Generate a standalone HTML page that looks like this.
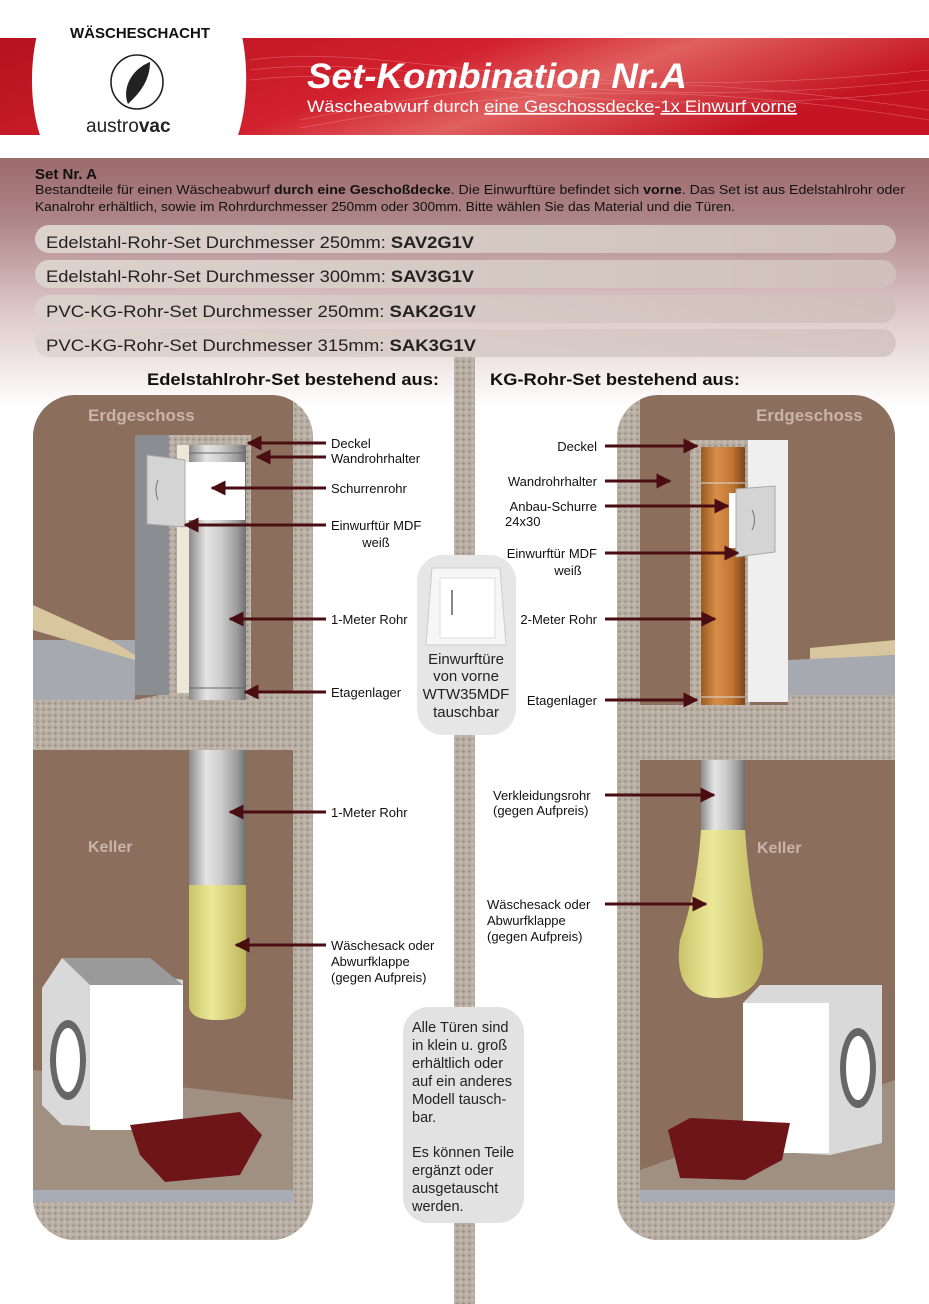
<!DOCTYPE html>
<html><head><meta charset="utf-8"><style>
html,body{margin:0;padding:0;background:#fff}
svg{display:block}
text{font-family:"Liberation Sans",sans-serif}
</style></head><body>
<svg width="929" height="1304" viewBox="0 0 929 1304" xmlns="http://www.w3.org/2000/svg">
<defs>
<linearGradient id="red" x1="0" y1="0" x2="1" y2="0.3">
<stop offset="0" stop-color="#b5121f"/><stop offset="0.5" stop-color="#d2202e"/><stop offset="0.7" stop-color="#e06060"/><stop offset="1" stop-color="#c41424"/></linearGradient>
<linearGradient id="mauve" x1="0" y1="0" x2="0" y2="1">
<stop offset="0" stop-color="#9c6a6b"/><stop offset="0.25" stop-color="#ae8587"/><stop offset="0.6" stop-color="#dcc6c6"/><stop offset="1" stop-color="#ffffff"/></linearGradient>
<linearGradient id="pill" x1="0" y1="0" x2="1" y2="0">
<stop offset="0" stop-color="#dcd2cc"/><stop offset="1" stop-color="#cfc0bb"/></linearGradient>
<linearGradient id="steel" x1="0" y1="0" x2="1" y2="0">
<stop offset="0" stop-color="#8a8a8a"/><stop offset="0.3" stop-color="#e4e4e4"/><stop offset="0.55" stop-color="#cfcfcf"/><stop offset="0.85" stop-color="#9a9a9a"/><stop offset="1" stop-color="#6e6e6e"/></linearGradient>
<linearGradient id="orange" x1="0" y1="0" x2="1" y2="0">
<stop offset="0" stop-color="#9a5a22"/><stop offset="0.35" stop-color="#d88e48"/><stop offset="0.7" stop-color="#c27634"/><stop offset="1" stop-color="#7e4418"/></linearGradient>
<linearGradient id="sack" x1="0" y1="0" x2="1" y2="0">
<stop offset="0" stop-color="#c9c46a"/><stop offset="0.4" stop-color="#ece89a"/><stop offset="1" stop-color="#bdb65a"/></linearGradient>
<pattern id="grav" width="6" height="6" patternUnits="userSpaceOnUse">
<rect width="6" height="6" fill="#b9aea3"/><circle cx="1.5" cy="1.5" r="1" fill="#8f8478"/><circle cx="4.5" cy="4" r="0.8" fill="#ddd4ca"/></pattern>
<marker id="ah" viewBox="0 0 10 10" refX="9" refY="5" markerWidth="5" markerHeight="5" orient="auto"><path d="M0,0 L10,5 L0,10 Z" fill="#4a0d12"/></marker>
<clipPath id="cl"><rect x="33" y="395" width="280" height="845" rx="42"/></clipPath>
<clipPath id="cr"><rect x="617" y="395" width="278" height="845" rx="42"/></clipPath>
</defs>

<!-- header -->
<rect x="0" y="38" width="929" height="97" fill="url(#red)"/>
<g stroke="#f3a0a0" stroke-width="0.6" fill="none" opacity="0.5">
<path d="M250,60 C400,40 550,110 929,70"/><path d="M250,70 C420,50 560,120 929,80"/><path d="M250,80 C420,60 580,130 929,90"/><path d="M300,120 C450,90 600,60 929,110"/><path d="M300,128 C460,100 620,70 929,120"/>
</g>
<path d="M50,0 L230,0 C250,40 250,100 238,135 L40,135 C28,100 28,40 50,0 Z" fill="#fff"/>
<text x="140" y="38" font-size="15" font-weight="bold" text-anchor="middle" fill="#111">WÄSCHESCHACHT</text>
<ellipse cx="137" cy="82" rx="26" ry="27" fill="none" stroke="#222" stroke-width="1.6"/>
<path d="M150,62 C130,70 122,90 128,104 L132,100 C140,92 150,80 150,62 Z" fill="#222"/>
<text x="86" y="132" font-size="19" fill="#222">austro<tspan font-weight="bold">vac</tspan></text>
<text x="307" y="88" font-size="35" font-weight="bold" font-style="italic" fill="#fff" textLength="380" lengthAdjust="spacingAndGlyphs">Set-Kombination Nr.A</text>
<text x="307" y="112" font-size="17" fill="#fff" textLength="490" lengthAdjust="spacingAndGlyphs">Wäscheabwurf durch <tspan text-decoration="underline">eine Geschossdecke</tspan>-<tspan text-decoration="underline">1x Einwurf vorne</tspan></text>

<!-- mauve section -->
<rect x="0" y="158" width="929" height="250" fill="url(#mauve)"/>
<text x="35" y="179" font-size="15" font-weight="bold" fill="#111">Set Nr. A</text>
<text x="35" y="194" font-size="12.5" fill="#111" textLength="870" lengthAdjust="spacingAndGlyphs">Bestandteile für einen Wäscheabwurf <tspan font-weight="bold">durch eine Geschoßdecke</tspan>. Die Einwurftüre befindet sich <tspan font-weight="bold">vorne</tspan>. Das Set ist aus Edelstahlrohr oder</text>
<text x="35" y="211" font-size="12.5" fill="#111" textLength="700" lengthAdjust="spacingAndGlyphs">Kanalrohr erhältlich, sowie im Rohrdurchmesser 250mm oder 300mm. Bitte wählen Sie das Material und die Türen.</text>

<rect x="35" y="225" width="861" height="28" rx="14" fill="url(#pill)"/>
<rect x="35" y="260" width="861" height="28" rx="14" fill="url(#pill)"/>
<rect x="35" y="295" width="861" height="28" rx="14" fill="url(#pill)" opacity="0.9"/>
<rect x="35" y="329" width="861" height="28" rx="14" fill="url(#pill)" opacity="0.8"/>
<text x="46" y="248" font-size="17" fill="#222" textLength="428" lengthAdjust="spacingAndGlyphs">Edelstahl-Rohr-Set Durchmesser 250mm: <tspan font-weight="bold">SAV2G1V</tspan></text>
<text x="46" y="282" font-size="17" fill="#222" textLength="428" lengthAdjust="spacingAndGlyphs">Edelstahl-Rohr-Set Durchmesser 300mm: <tspan font-weight="bold">SAV3G1V</tspan></text>
<text x="46" y="317" font-size="17" fill="#222" textLength="430" lengthAdjust="spacingAndGlyphs">PVC-KG-Rohr-Set Durchmesser 250mm:  <tspan font-weight="bold">SAK2G1V</tspan></text>
<text x="46" y="351" font-size="17" fill="#222" textLength="430" lengthAdjust="spacingAndGlyphs">PVC-KG-Rohr-Set Durchmesser 315mm:  <tspan font-weight="bold">SAK3G1V</tspan></text>

<!-- center strip -->
<rect x="454" y="357" width="21" height="947" fill="url(#grav)"/>
<text x="147" y="385" font-size="17" font-weight="bold" fill="#111" textLength="292" lengthAdjust="spacingAndGlyphs">Edelstahlrohr-Set bestehend aus:</text>
<text x="490" y="385" font-size="17" font-weight="bold" fill="#111" textLength="250" lengthAdjust="spacingAndGlyphs">KG-Rohr-Set bestehend aus:</text>

<!-- LEFT PANEL -->
<g clip-path="url(#cl)">
<rect x="33" y="395" width="280" height="845" fill="url(#grav)"/>
<rect x="33" y="395" width="260" height="845" fill="#8c6e5d"/>
<polygon points="33,640 135,640 135,700 33,700" fill="#a6a9b0"/>
<polygon points="33,605 110,640 135,655 135,660 33,630" fill="#d8c79e"/>
<polygon points="33,700 135,700 170,693 293,693 293,750 33,750" fill="url(#grav)"/>
<rect x="135" y="435" width="34" height="260" fill="#8a8d92"/>
<rect x="169" y="435" width="82" height="260" fill="url(#grav)"/>
<rect x="177" y="445" width="68" height="248" fill="#ece7d6"/>
<rect x="189" y="445" width="57" height="255" fill="url(#steel)"/>
<rect x="183" y="462" width="62" height="58" fill="#fff"/>
<polygon points="147,455 185,460 185,527 147,524" fill="#d4d4d4" stroke="#aaa"/>
<path d="M158,480 Q154,490 158,500" stroke="#777" fill="none"/>
<line x1="189" y1="453" x2="246" y2="453" stroke="#666"/><line x1="189" y1="688" x2="246" y2="688" stroke="#666"/>
<rect x="189" y="750" width="57" height="135" fill="url(#steel)"/>
<path d="M189,885 L246,885 L246,1005 Q246,1020 217,1020 Q189,1020 189,1005 Z" fill="url(#sack)"/>
<polygon points="33,1070 293,1100 293,1200 33,1200" fill="#a09081"/>
<rect x="33" y="1190" width="260" height="12" fill="#a7acb6"/>
<rect x="33" y="1202" width="280" height="38" fill="url(#grav)"/>
<polygon points="42,988 62,958 183,980 183,1130 62,1125 42,1105" fill="#d9d9d9"/>
<polygon points="62,958 150,958 183,985 90,985" fill="#9a9a9a"/>
<rect x="90" y="985" width="93" height="145" fill="#fff"/>
<ellipse cx="68" cy="1060" rx="18" ry="40" fill="#666"/><ellipse cx="68" cy="1060" rx="12" ry="32" fill="#fff"/>
<polygon points="130,1125 240,1112 262,1135 240,1175 165,1182 140,1155" fill="#6e1518"/>
</g>
<text x="88" y="421" font-size="17" font-weight="bold" fill="#c8b4a8">Erdgeschoss</text>
<text x="88" y="852" font-size="16" font-weight="bold" fill="#c8b4a8">Keller</text>

<!-- RIGHT PANEL -->
<g clip-path="url(#cr)">
<rect x="617" y="395" width="278" height="845" fill="url(#grav)"/>
<rect x="640" y="395" width="255" height="845" fill="#8c6e5d"/>
<polygon points="810,648 895,640 895,655 810,660" fill="#d8c79e"/>
<polygon points="788,660 895,655 895,700 788,700" fill="#a6a9b0"/>
<polygon points="640,705 788,705 788,695 895,695 895,760 640,760" fill="url(#grav)"/>
<rect x="690" y="440" width="60" height="265" fill="url(#grav)"/>
<rect x="748" y="440" width="40" height="262" fill="#efefef"/>
<rect x="701" y="447" width="44" height="258" fill="url(#orange)"/>
<rect x="729" y="493" width="20" height="55" fill="#fff"/>
<polygon points="736,489 775,486 775,552 736,557" fill="#d4d4d4" stroke="#aaa"/>
<path d="M752,510 Q757,520 752,530" stroke="#777" fill="none"/>
<line x1="701" y1="483" x2="745" y2="483" stroke="#ddd"/><line x1="701" y1="697" x2="745" y2="697" stroke="#ddd"/>
<rect x="701" y="760" width="44" height="70" fill="url(#steel)"/>
<path d="M701,830 L745,830 Q750,900 762,940 Q770,998 717,998 Q672,998 680,940 Q697,890 701,830 Z" fill="url(#sack)"/>
<polygon points="640,1170 895,1080 895,1205 640,1205" fill="#a09081"/>
<rect x="640" y="1190" width="255" height="12" fill="#a7acb6"/>
<rect x="617" y="1202" width="278" height="38" fill="url(#grav)"/>
<polygon points="743,1003 760,985 882,985 882,1143 830,1155 743,1150" fill="#d9d9d9"/>
<rect x="743" y="1003" width="86" height="150" fill="#fff"/>
<ellipse cx="858" cy="1068" rx="18" ry="40" fill="#666"/><ellipse cx="858" cy="1068" rx="12" ry="32" fill="#fff"/>
<polygon points="668,1130 690,1118 790,1123 782,1160 745,1180 680,1178" fill="#6e1518"/>
</g>
<text x="756" y="421" font-size="17" font-weight="bold" fill="#c8b4a8">Erdgeschoss</text>
<text x="757" y="853" font-size="16" font-weight="bold" fill="#c8b4a8">Keller</text>

<!-- center boxes -->
<rect x="417" y="555" width="99" height="180" rx="26" fill="#e6e6e6"/>
<polygon points="432,568 500,568 506,645 426,645" fill="#f6f6f6" stroke="#ccc"/>
<rect x="440" y="578" width="55" height="60" fill="#fff" stroke="#ddd"/>
<line x1="452" y1="590" x2="452" y2="615" stroke="#888" stroke-width="2"/>
<g font-size="15" fill="#222" text-anchor="middle">
<text x="466" y="664">Einwurftüre</text><text x="466" y="681">von vorne</text><text x="466" y="699">WTW35MDF</text><text x="466" y="717">tauschbar</text></g>
<rect x="403" y="1007" width="121" height="216" rx="26" fill="#e2e2e2"/>
<g font-size="14.5" fill="#222">
<text x="412" y="1032">Alle Türen sind</text><text x="412" y="1050">in klein u. groß</text><text x="412" y="1068">erhältlich oder</text><text x="412" y="1086">auf ein anderes</text><text x="412" y="1104">Modell tausch-</text><text x="412" y="1122">bar.</text>
<text x="412" y="1157">Es können Teile</text><text x="412" y="1175">ergänzt oder</text><text x="412" y="1193">ausgetauscht</text><text x="412" y="1211">werden.</text></g>

<!-- arrows -->
<g stroke="#4a0d12" stroke-width="3" marker-end="url(#ah)">
<line x1="326" y1="443" x2="248" y2="443"/>
<line x1="326" y1="457" x2="257" y2="457"/>
<line x1="326" y1="488" x2="212" y2="488"/>
<line x1="326" y1="525" x2="185" y2="525"/>
<line x1="326" y1="619" x2="230" y2="619"/>
<line x1="326" y1="692" x2="245" y2="692"/>
<line x1="326" y1="812" x2="230" y2="812"/>
<line x1="326" y1="945" x2="236" y2="945"/>
<line x1="605" y1="446" x2="697" y2="446"/>
<line x1="605" y1="481" x2="670" y2="481"/>
<line x1="605" y1="506" x2="728" y2="506"/>
<line x1="605" y1="553" x2="738" y2="553"/>
<line x1="605" y1="619" x2="715" y2="619"/>
<line x1="605" y1="700" x2="697" y2="700"/>
<line x1="605" y1="795" x2="714" y2="795"/>
<line x1="605" y1="904" x2="706" y2="904"/>
</g>
<g font-size="13" fill="#111">
<text x="331" y="448">Deckel</text><text x="331" y="463">Wandrohrhalter</text>
<text x="331" y="493">Schurrenrohr</text>
<text x="331" y="530">Einwurftür MDF</text><text x="376" y="547" text-anchor="middle">weiß</text>
<text x="331" y="624">1-Meter Rohr</text>
<text x="331" y="697">Etagenlager</text>
<text x="331" y="817">1-Meter Rohr</text>
<text x="331" y="950">Wäschesack oder</text><text x="331" y="966">Abwurfklappe</text><text x="331" y="982">(gegen Aufpreis)</text>
</g>
<g font-size="13" fill="#111" text-anchor="end">
<text x="597" y="451">Deckel</text>
<text x="597" y="486">Wandrohrhalter</text>
<text x="597" y="511">Anbau-Schurre</text>
<text x="597" y="558">Einwurftür MDF</text><text x="568" y="575" text-anchor="middle">weiß</text>
<text x="597" y="624">2-Meter Rohr</text>
<text x="597" y="705">Etagenlager</text>
</g>
<g font-size="13" fill="#111">
<text x="505" y="526">24x30</text>
<text x="493" y="800">Verkleidungsrohr</text><text x="493" y="815">(gegen Aufpreis)</text>
<text x="487" y="909">Wäschesack oder</text><text x="487" y="925">Abwurfklappe</text><text x="487" y="941">(gegen Aufpreis)</text>
</g>
</svg>
</body></html>
